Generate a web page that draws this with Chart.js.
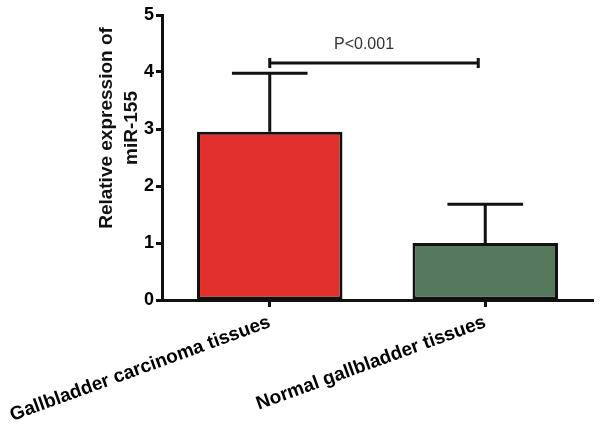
<!doctype html>
<html lang="en">
  <head>
    <meta charset="utf-8">
    <title>miR-155 expression</title>
    <script src="https://cdn.jsdelivr.net/npm/chart.js"></script>
    <style>
      body { margin: 0; background: #fff; }
      #myChart { display: block; }
    </style>
  </head>
  <body>
    <canvas id="myChart" width="600" height="429"></canvas>
    <script>
      // values
      const categories = ["Gallbladder carcinoma tissues", "Normal gallbladder tissues"];
      const means = [2.95, 1.0];
      const upperErr = [3.98, 1.68];
      const barColors = ["#E2312D", "#56785C"];
      const yTicks = [0, 1, 2, 3, 4, 5];
      const yTitle = ["Relative expression of", "miR-155"];
      const bracketY = 4.16;
      const pLabel = "P<0.001";

      const FONT = "'Liberation Sans', Arial, sans-serif";
      const INK = "#111";

      // error bars, significance bracket, axis title
      const extras = {
        id: "extras",
        afterDatasetsDraw(chart) {
          const ctx = chart.ctx;
          const x = chart.scales.x;
          const y = chart.scales.y;
          ctx.save();
          ctx.strokeStyle = INK;
          ctx.lineWidth = 3;
          ctx.lineCap = "butt";
          upperErr.forEach(function (v, i) {
            const cx = x.getPixelForValue(i);
            const bar = chart.getDatasetMeta(0).data[i];
            const half = bar.width * 0.26;
            ctx.beginPath();
            ctx.moveTo(cx, y.getPixelForValue(means[i]));
            ctx.lineTo(cx, y.getPixelForValue(v));
            ctx.moveTo(cx - half, y.getPixelForValue(v));
            ctx.lineTo(cx + half, y.getPixelForValue(v));
            ctx.stroke();
          });

          // bracket
          const by = y.getPixelForValue(bracketY);
          const x0 = x.getPixelForValue(0);
          const x1 = x.getPixelForValue(1) - 7;
          ctx.beginPath();
          ctx.moveTo(x0, by);
          ctx.lineTo(x1, by);
          ctx.moveTo(x0, by - 5);
          ctx.lineTo(x0, by + 5);
          ctx.moveTo(x1, by - 5);
          ctx.lineTo(x1, by + 5);
          ctx.stroke();
          ctx.fillStyle = "#333";
          ctx.font = "16px " + FONT;
          ctx.textAlign = "center";
          ctx.textBaseline = "alphabetic";
          ctx.fillText(pLabel, (x0 + x1) / 2 - 10, by - 14);
          ctx.restore();
        },
        afterDraw(chart) {
          const ctx = chart.ctx;
          ctx.save();
          ctx.translate(107, 128);
          ctx.rotate(-Math.PI / 2);
          ctx.fillStyle = INK;
          ctx.font = "bold 19px " + FONT;
          ctx.textAlign = "center";
          ctx.textBaseline = "middle";
          yTitle.forEach(function (line, i) {
            ctx.fillText(line, 0, i * 25);
          });
          ctx.restore();
        }
      };

      const ctx = document.getElementById("myChart");
      const myChart = new Chart(ctx, {
        type: "bar",
        data: {
          labels: categories,
          datasets: [
            {
              data: means,
              backgroundColor: barColors,
              borderColor: INK,
              borderWidth: 3,
              borderSkipped: false,
              barPercentage: 0.675,
              categoryPercentage: 1,
            },
          ],
        },
        options: {
          responsive: false,
          animation: false,
          devicePixelRatio: 1,
          layout: { padding: { top: 15, right: 7, left: 0, bottom: 0 } },
          plugins: {
            legend: { display: false },
            tooltip: { enabled: false },
          },
          scales: {
            y: {
              min: 0,
              max: 5,
              afterBuildTicks: function (scale) {
                scale.ticks = yTicks.map(function (v) { return { value: v }; });
              },
              afterFit: function (scale) { scale.width = 162; },
              ticks: {
                color: "#000",
                padding: 2,
                font: { family: FONT, size: 18, weight: "bold" },
              },
              grid: {
                drawOnChartArea: false,
                drawTicks: true,
                tickLength: 6,
                tickWidth: 3,
                color: INK,
              },
              border: { color: INK, width: 3 },
            },
            x: {
              afterFit: function (scale) {
                scale.height = 129;
                // long rotated labels may run to the canvas edge, as in the figure
                scale.paddingLeft = 0;
                scale.paddingRight = 0;
              },
              ticks: {
                color: "#000",
                minRotation: 20,
                maxRotation: 20,
                padding: 4,
                font: { family: FONT, size: 19, weight: "bold" },
              },
              grid: {
                offset: false,
                drawOnChartArea: false,
                drawTicks: true,
                tickLength: 7,
                tickWidth: 3,
                color: INK,
              },
              border: { color: INK, width: 3 },
            },
          },
        },
        plugins: [extras],
      });
    </script>
  </body>
</html>
